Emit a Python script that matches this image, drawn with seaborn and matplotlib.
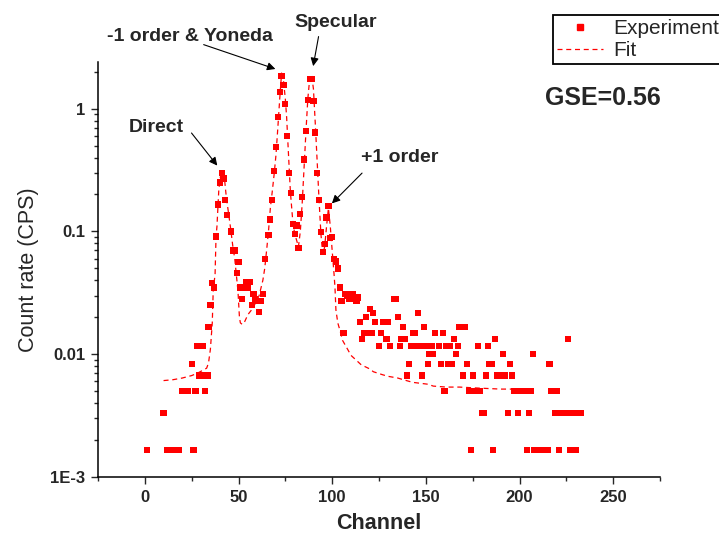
import matplotlib
matplotlib.use('Agg')
import matplotlib.pyplot as plt
import seaborn as sns
import numpy as np
from matplotlib.lines import Line2D
from matplotlib.ticker import MultipleLocator, LogLocator, NullFormatter

exp_channel = [1, 10, 12, 14, 15, 17, 18, 20, 21, 22, 23, 25, 26, 27, 28, 29, 30, 31, 32, 33,
               33.5, 34, 35, 36, 37, 38, 39, 40, 41, 42, 43, 44, 46, 47, 48, 49, 50, 51, 52, 53,
               54, 55, 56, 57, 58, 59, 60, 61, 62, 63, 64, 66, 67, 68, 69, 70, 71, 72, 73, 74,
               75, 76, 77, 78, 79, 80, 81, 82, 83, 84, 85, 86, 87, 88, 89, 90, 91, 92, 93, 94,
               95, 96, 97, 98, 99, 100, 101, 102, 103, 104, 105, 106, 107, 108, 109, 110, 111, 112, 113, 114,
               115, 116, 117, 118, 119, 120, 121, 122, 123, 125, 126, 127, 128, 129, 130, 131, 133, 134, 135, 136,
               137, 138, 139, 140, 141, 142, 143, 144, 145, 146, 147, 148, 149, 150, 151, 152, 153, 154, 155, 157,
               158, 159, 160, 161, 162, 163, 164, 165, 166, 167, 168, 170, 171, 172, 173, 174, 175, 176, 178, 179,
               180, 181, 182, 183, 184, 185, 186, 187, 188, 190, 191, 192, 194, 195, 196, 197, 199, 200, 201, 203,
               204, 205, 206, 207, 208, 209, 211, 213, 215, 216, 217, 219, 220, 221, 222, 225, 226, 227, 228, 230,
               231, 233]
exp_rate = [0.00167, 0.0033, 0.00167, 0.00167, 0.00167, 0.00167, 0.00167, 0.005, 0.005, 0.005,
            0.005, 0.0083, 0.00167, 0.005, 0.0117, 0.0067, 0.0067, 0.0117, 0.005, 0.0067,
            0.0067, 0.0167, 0.025, 0.038, 0.035, 0.091, 0.166, 0.25, 0.30, 0.27,
            0.18, 0.137, 0.10, 0.07, 0.07, 0.046, 0.056, 0.035, 0.028, 0.035,
            0.039, 0.035, 0.039, 0.025, 0.031, 0.028, 0.027, 0.022, 0.027, 0.031,
            0.060, 0.093, 0.125, 0.18, 0.31, 0.49, 0.86, 1.37, 1.85, 1.56,
            1.09, 0.60, 0.30, 0.206, 0.115, 0.096, 0.112, 0.073, 0.139, 0.19,
            0.385, 0.66, 1.17, 1.75, 1.75, 1.15, 0.64, 0.30, 0.18, 0.099,
            0.068, 0.079, 0.13, 0.16, 0.088, 0.09, 0.06, 0.057, 0.05, 0.035,
            0.027, 0.015, 0.031, 0.030, 0.028, 0.031, 0.031, 0.028, 0.027, 0.029,
            0.0183, 0.0133, 0.015, 0.020, 0.015, 0.0233, 0.015, 0.0217, 0.0183, 0.0117,
            0.015, 0.0183, 0.0183, 0.0133, 0.0183, 0.0117, 0.028, 0.028, 0.020, 0.0117,
            0.0133, 0.0167, 0.0133, 0.0067, 0.0083, 0.0117, 0.015, 0.015, 0.0117, 0.0217,
            0.0117, 0.0067, 0.0167, 0.0117, 0.0083, 0.01, 0.0117, 0.01, 0.015, 0.0117,
            0.0083, 0.015, 0.005, 0.0117, 0.0083, 0.0117, 0.0083, 0.0133, 0.01, 0.0117,
            0.0167, 0.0067, 0.0167, 0.0083, 0.005, 0.00167, 0.0067, 0.005, 0.0117, 0.005,
            0.0033, 0.0033, 0.0067, 0.0117, 0.0083, 0.0083, 0.00167, 0.0133, 0.0067, 0.0067,
            0.01, 0.0067, 0.0033, 0.0083, 0.0067, 0.005, 0.0033, 0.005, 0.005, 0.005,
            0.00167, 0.0033, 0.005, 0.01, 0.00167, 0.00167, 0.00167, 0.00167, 0.00167, 0.0083,
            0.005, 0.0033, 0.005, 0.00167, 0.0033, 0.0033, 0.0133, 0.00167, 0.0033, 0.00167,
            0.0033, 0.0033]

# Fit curve points
fit_channel = [10, 15, 20, 25, 28, 31, 33, 34, 35, 36, 36.5, 37.5, 38, 38.5, 39.5, 40.5, 41.5, 42.5, 43.5, 45,
               46, 47, 48, 49, 49.7, 50.5, 51, 52, 53, 55, 57, 59, 61, 63, 64, 65, 66, 67, 68, 69,
               70, 71, 72, 73, 74, 75, 75.7, 76.7, 77.7, 79, 80, 81, 82, 83, 84, 85, 86, 87, 88, 89,
               90, 91, 92, 93, 94, 95, 96, 97, 98, 99, 100, 101, 101.5, 102, 103, 104.5, 105.5, 108.5, 110, 113,
               115.5, 120, 122, 127, 130, 135, 138, 143, 147, 151, 154, 161, 168, 178, 190, 206]
fit_rate = [0.0061, 0.0062, 0.0064, 0.0067, 0.0070, 0.0074, 0.0077, 0.0085, 0.011, 0.018,
            0.033, 0.045, 0.09, 0.11, 0.22, 0.29, 0.31, 0.27, 0.19, 0.13,
            0.10, 0.075, 0.06, 0.042, 0.033, 0.02, 0.018, 0.0175, 0.018, 0.021,
            0.023, 0.026, 0.030, 0.040, 0.050, 0.070, 0.10, 0.155, 0.21, 0.29,
            0.42, 0.70, 1.2, 1.95, 1.7, 1.2, 0.85, 0.42, 0.21, 0.12,
            0.095, 0.085, 0.075, 0.10, 0.17, 0.33, 0.65, 1.2, 1.75, 1.9,
            1.45, 0.75, 0.37, 0.18, 0.095, 0.065, 0.075, 0.11, 0.155, 0.11,
            0.07, 0.045, 0.035, 0.023, 0.018, 0.015, 0.013, 0.0108, 0.0098, 0.0089,
            0.0082, 0.0076, 0.0072, 0.0068, 0.0066, 0.0064, 0.0062, 0.0059, 0.0058, 0.0057,
            0.0055, 0.0054, 0.0054, 0.0053, 0.0052, 0.0052]

sns.set_style('ticks')
plt.rcParams['font.family'] = ['Liberation Sans', 'DejaVu Sans']

fig = plt.figure(figsize=(7.19, 5.41), dpi=100)
ax = fig.add_axes([98 / 719, 1 - 477 / 541, (660 - 98) / 719, (477 - 62) / 541])

sns.lineplot(x=fit_channel, y=fit_rate, ax=ax, color='red', linewidth=0.9,
             linestyle=(0, (4, 3)), sort=False)
sns.scatterplot(x=exp_channel, y=exp_rate, ax=ax, color='red', marker='s', s=20,
                edgecolor='none', zorder=3)

ax.set_yscale('log')
ax.set_xlim(-25, 275)
ax.set_ylim(1e-3, 2.4)

# Ticks
ax.set_xticks([0, 50, 100, 150, 200, 250])
ax.xaxis.set_minor_locator(MultipleLocator(25))
ax.set_yticks([1e-3, 1e-2, 1e-1, 1])
ax.set_yticklabels(['1E-3', '0.01', '0.1', '1'])
ax.yaxis.set_minor_locator(LogLocator(base=10, subs=np.arange(2, 10)))
ax.yaxis.set_minor_formatter(NullFormatter())
ax.tick_params(which='major', direction='out', length=5, width=1, labelsize=12, pad=4)
ax.tick_params(which='minor', direction='out', length=3, width=1)
for lbl in ax.get_xticklabels() + ax.get_yticklabels():
    lbl.set_fontweight('bold')

sns.despine(ax=ax)
for sp in ['left', 'bottom']:
    ax.spines[sp].set_linewidth(1.1)
    ax.spines[sp].set_color('black')

ax.set_xlabel('Channel', fontsize=15.5, fontweight='bold', labelpad=6)
ax.set_ylabel('Count rate (CPS)', fontsize=15.5, labelpad=8)

# Peak annotations
arrow_kw = dict(arrowstyle='-|>', color='black', lw=0.8, mutation_scale=12)
notes = [
    ('-1 order & Yoneda', (24, 3.9), (30, 3.38), (71.1, 2.07)),
    ('Specular', (102, 5.0), (93, 4.07), (89.6, 2.11)),
    ('Direct', (6, 0.70), (24, 0.66), (39.6, 0.33)),
    ('+1 order', (136, 0.40), (117, 0.31), (98.8, 0.163)),
]
for label, pos, tail, tip in notes:
    ax.text(pos[0], pos[1], label, ha='center', va='center', fontsize=14,
            fontweight='bold', clip_on=False)
    ax.annotate('', xy=tip, xytext=tail, arrowprops=arrow_kw, annotation_clip=False)

fig.text(545 / 719, 1 - 98 / 541, 'GSE=0.56', fontsize=18, fontweight='bold',
         ha='left', va='center')

handles = [Line2D([], [], color='red', marker='s', linestyle='none', markersize=5),
           Line2D([], [], color='red', linestyle=(0, (4, 3)), linewidth=0.9)]
leg = fig.legend(handles, ['Experiment', 'Fit'], loc='upper left',
                 bbox_to_anchor=(553 / 719, 1 - 15 / 541), fontsize=15,
                 frameon=True, fancybox=False, edgecolor='black', framealpha=1,
                 borderpad=0.2, labelspacing=0.15, handlelength=2.2,
                 handletextpad=0.5, borderaxespad=0)
leg.get_frame().set_linewidth(1.3)

fig.savefig('out.png', dpi=100)
